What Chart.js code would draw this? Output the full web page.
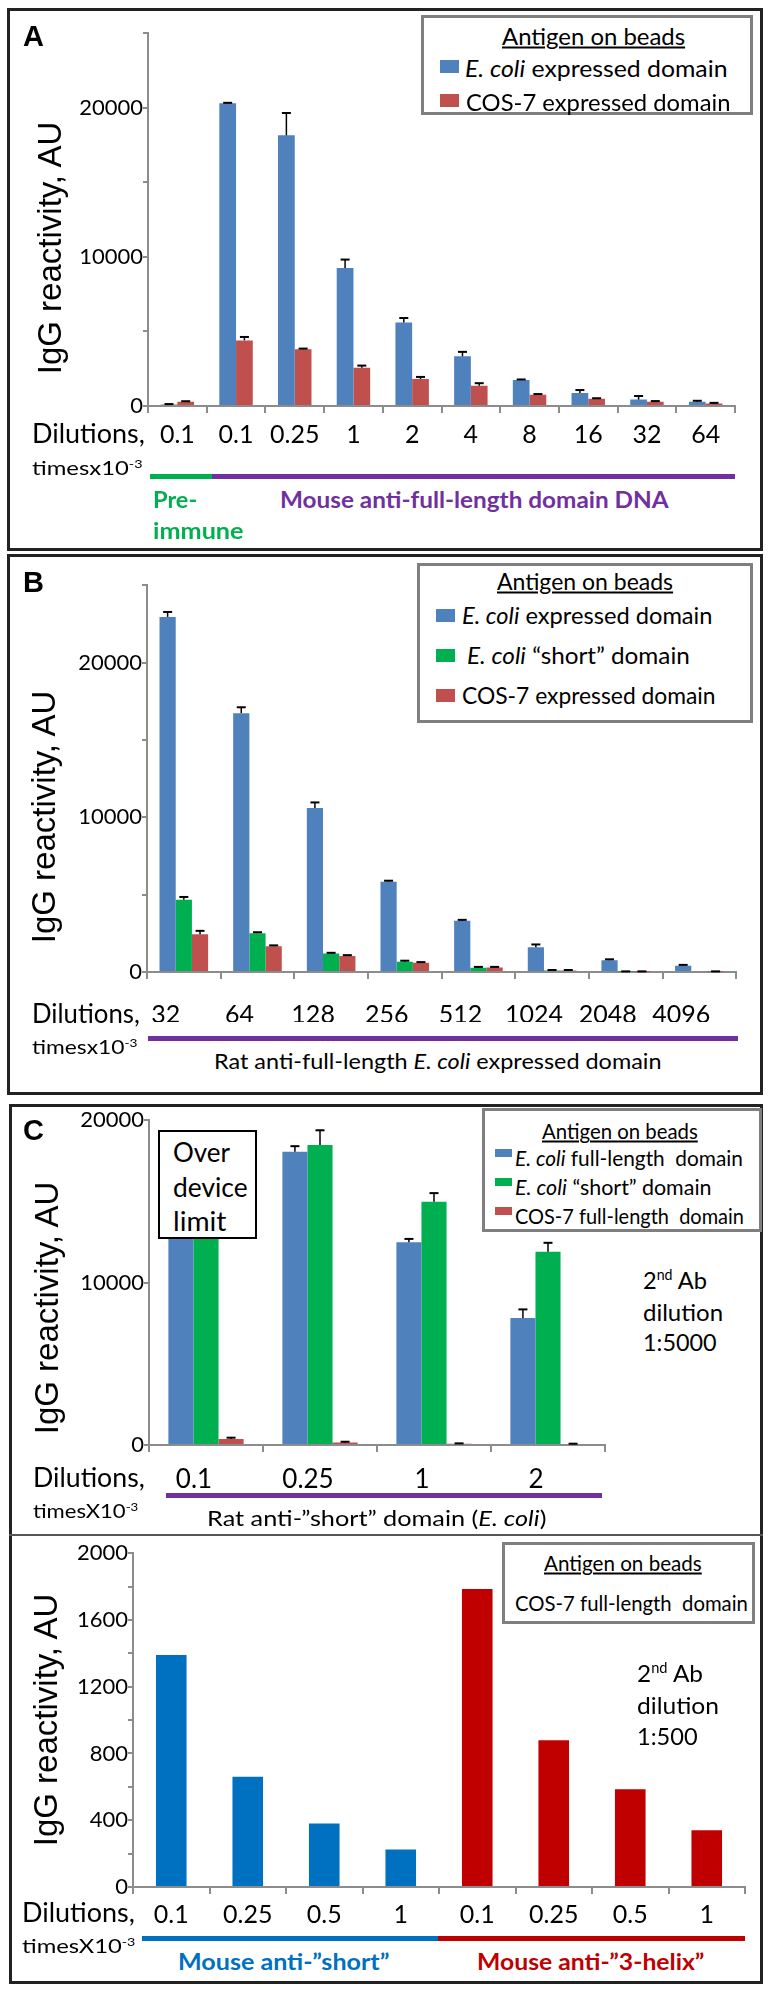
<!DOCTYPE html>
<html>
<head>
<meta charset="utf-8">
<title>IgG reactivity</title>
<script src="https://cdn.jsdelivr.net/npm/chart.js@4.4.1/dist/chart.umd.min.js"></script>
<style>
  body{margin:0;background:#fff;}
  #page{position:relative;width:768px;height:1991px;overflow:hidden;font-family:Lato,sans-serif;color:#000;}
  .frame{position:absolute;box-sizing:border-box;border:3px solid #222;}
  .t{position:absolute;white-space:nowrap;line-height:1;transform:translateY(-50%);transform-origin:0 50%;}
  .yt{position:absolute;white-space:nowrap;line-height:1;font:33px 'Liberation Sans',Arial,sans-serif;transform:translate(-50%,-50%) rotate(-90deg);}
  .leg{position:absolute;box-sizing:border-box;border:3px solid #7f7f7f;background:#fff;}
  .sw{position:absolute;}
  .bar{position:absolute;height:5px;}
  .panel{font:bold 29px 'Liberation Sans',Arial,sans-serif;}
  .ovr{position:absolute;box-sizing:border-box;border:2px solid #000;background:#fff;}
  canvas{position:absolute;}
  sup{font-size:60%;vertical-align:0.6em;line-height:0;}
</style>
</head>
<body>
<div id="page">
  <!-- frames -->
  <div class="frame" style="left:7px;top:8px;width:756px;height:543px"></div>
  <div class="frame" style="left:7px;top:554px;width:756px;height:541px"></div>
  <div class="frame" style="left:9px;top:1104px;width:754px;height:880px"></div>
  <div style="position:absolute;left:9px;top:1534px;width:754px;height:2px;background:#555"></div>

  <canvas id="chartA" width="695" height="436" style="left:50px;top:20px"></canvas>
  <canvas id="chartB" width="700" height="450" style="left:50px;top:572px"></canvas>
  <canvas id="chartC" width="565" height="390" style="left:50px;top:1107px"></canvas>
  <canvas id="chartD" width="715" height="387" style="left:40px;top:1540px"></canvas>

  <!-- panel A -->
  <div class="t panel" style="left:23px;top:36px">A</div>
  <div class="yt" style="left:50px;top:248px">IgG reactivity, AU</div>
  <div class="leg" style="left:421px;top:15px;width:332px;height:100px"></div>
  <div class="t" style="left:502px;top:36px;font-size:23px;text-decoration:underline" data-w="183">Antigen on beads</div>
  <div class="sw" style="left:440px;top:60px;width:19px;height:13px;background:#4F81BD"></div>
  <div class="t" style="left:465px;top:68px;font-size:23px" data-w="263"><i>E. coli</i> expressed domain</div>
  <div class="sw" style="left:440px;top:94px;width:19px;height:13px;background:#C0504D"></div>
  <div class="t" style="left:466px;top:102px;font-size:23px" data-w="265">COS-7 expressed domain</div>
  <div class="t" style="left:32px;top:433px;font-size:26px" data-w="113">Dilutions,</div>
  <div class="t" style="left:32px;top:467px;font-size:20px" data-w="111">timesx10<sup>-3</sup></div>
  <div class="bar" style="left:150px;top:474px;width:62px;background:#00B050"></div>
  <div class="bar" style="left:212px;top:474px;width:523px;background:#7030A0"></div>
  <div class="t" style="left:153px;top:499px;font-size:23px;font-weight:bold;color:#00B050" data-w="44">Pre-</div>
  <div class="t" style="left:153px;top:530px;font-size:23px;font-weight:bold;color:#00B050" data-w="91">immune</div>
  <div class="t" style="left:280px;top:499px;font-size:23px;font-weight:bold;color:#7030A0" data-w="389">Mouse anti-full-length domain DNA</div>

  <!-- panel B -->
  <div class="t panel" style="left:23px;top:582px">B</div>
  <div class="yt" style="left:44px;top:817px">IgG reactivity, AU</div>
  <div class="leg" style="left:417px;top:563px;width:336px;height:160px"></div>
  <div class="t" style="left:497px;top:581px;font-size:23px;text-decoration:underline" data-w="176">Antigen on beads</div>
  <div class="sw" style="left:436px;top:609px;width:19px;height:13px;background:#4F81BD"></div>
  <div class="t" style="left:462px;top:615px;font-size:23px" data-w="251"><i>E. coli</i> expressed domain</div>
  <div class="sw" style="left:436px;top:649px;width:19px;height:13px;background:#00B050"></div>
  <div class="t" style="left:467px;top:655px;font-size:23px" data-w="223"><i>E. coli</i> “short” domain</div>
  <div class="sw" style="left:436px;top:689px;width:19px;height:13px;background:#C0504D"></div>
  <div class="t" style="left:462px;top:695px;font-size:23px" data-w="254">COS-7 expressed domain</div>
  <div class="t" style="left:32px;top:1013px;font-size:26px" data-w="108">Dilutions,</div>
  <div class="t" style="left:32px;top:1046px;font-size:20px" data-w="106">timesx10<sup>-3</sup></div>
  <div class="bar" style="left:148px;top:1036px;width:590px;background:#7030A0"></div>
  <div class="t" style="left:214px;top:1061px;font-size:22px" data-w="448">Rat anti-full-length <i>E. coli</i> expressed domain</div>

  <!-- panel C -->
  <div class="t panel" style="left:23px;top:1130px">C</div>
  <div class="yt" style="left:47px;top:1308px">IgG reactivity, AU</div>
  <div class="ovr" style="left:158px;top:1130px;width:99px;height:109px"></div>
  <div class="t" style="left:173px;top:1152px;font-size:26px" data-w="57">Over</div>
  <div class="t" style="left:173px;top:1187px;font-size:26px" data-w="75">device</div>
  <div class="t" style="left:173px;top:1221px;font-size:26px" data-w="53">limit</div>
  <div class="leg" style="left:482px;top:1108px;width:280px;height:124px"></div>
  <div class="t" style="left:542px;top:1130px;font-size:21px;text-decoration:underline" data-w="156">Antigen on beads</div>
  <div class="sw" style="left:495px;top:1149px;width:17px;height:8px;background:#4F81BD"></div>
  <div class="t" style="left:515px;top:1157px;font-size:21px" data-w="228"><i>E. coli</i> full-length&nbsp; domain</div>
  <div class="sw" style="left:495px;top:1178px;width:17px;height:8px;background:#00B050"></div>
  <div class="t" style="left:515px;top:1186px;font-size:21px" data-w="197"><i>E. coli</i> “short” domain</div>
  <div class="sw" style="left:495px;top:1207px;width:17px;height:8px;background:#C0504D"></div>
  <div class="t" style="left:515px;top:1215px;font-size:21px" data-w="229">COS-7 full-length&nbsp; domain</div>
  <div class="t" style="left:643px;top:1280px;font-size:24px" data-w="64">2<sup>nd</sup> Ab</div>
  <div class="t" style="left:643px;top:1312px;font-size:24px" data-w="80">dilution</div>
  <div class="t" style="left:643px;top:1342px;font-size:24px" data-w="74">1:5000</div>
  <div class="t" style="left:33px;top:1477px;font-size:26px" data-w="112">Dilutions,</div>
  <div class="t" style="left:33px;top:1510px;font-size:20px" data-w="105">timesX10<sup>-3</sup></div>
  <div class="bar" style="left:166px;top:1493px;width:436px;background:#7030A0"></div>
  <div class="t" style="left:207px;top:1518px;font-size:22px" data-w="339">Rat anti-”short” domain (<i>E. coli</i>)</div>

  <!-- panel D -->
  <div class="yt" style="left:46px;top:1720px">IgG reactivity, AU</div>
  <div class="leg" style="left:502px;top:1542px;width:253px;height:82px"></div>
  <div class="t" style="left:544px;top:1562px;font-size:21px;text-decoration:underline" data-w="158">Antigen on beads</div>
  <div class="t" style="left:515px;top:1602px;font-size:21px" data-w="233">COS-7 full-length&nbsp; domain</div>
  <div class="t" style="left:637px;top:1673px;font-size:24px" data-w="66">2<sup>nd</sup> Ab</div>
  <div class="t" style="left:637px;top:1705px;font-size:24px" data-w="82">dilution</div>
  <div class="t" style="left:637px;top:1736px;font-size:24px" data-w="61">1:500</div>
  <div class="t" style="left:22px;top:1912px;font-size:26px" data-w="113">Dilutions,</div>
  <div class="t" style="left:22px;top:1945px;font-size:20px" data-w="113">timesX10<sup>-3</sup></div>
  <div class="bar" style="left:142px;top:1936px;width:296px;background:#0070C0"></div>
  <div class="bar" style="left:438px;top:1936px;width:307px;background:#C00000"></div>
  <div class="t" style="left:178px;top:1962px;font-size:22px;font-weight:bold;color:#0070C0" data-w="211">Mouse anti-”short”</div>
  <div class="t" style="left:477px;top:1962px;font-size:22px;font-weight:bold;color:#C00000" data-w="227">Mouse anti-”3-helix”</div>
</div>

<script>
// ---- data ----
var catsA = ['0.1', '0.1', '0.25', '1', '2', '4', '8', '16', '32', '64'];
var ecoliA = [100, 20300, 18150, 9250, 5600, 3330, 1740, 880, 430, 290];
var ecoliErrA = [30, 30, 1500, 570, 300, 300, 40, 190, 240, 60];
var cosA = [280, 4400, 3800, 2570, 1810, 1360, 760, 480, 290, 170];
var cosErrA = [40, 230, 50, 140, 140, 170, 40, 40, 40, 40];
var yLabelsA = [0, 10000, 20000];

var catsB = ['32', '64', '128', '256', '512', '1024', '2048', '4096'];
var ecoliB = [22950, 16730, 10600, 5840, 3310, 1600, 760, 400];
var ecoliErrB = [320, 380, 360, 60, 60, 180, 60, 60];
var shortB = [4670, 2510, 1200, 670, 270, 90, 20, 0];
var shortErrB = [180, 60, 40, 60, 60, 40, 20, null];
var cosB = [2440, 1670, 1040, 600, 290, 90, 20, 20];
var cosErrB = [220, 50, 50, 40, 40, 40, 20, 20];
var yLabelsB = [0, 10000, 20000];

var catsC = ['0.1', '0.25', '1', '2'];
var ecoliC = [19000, 18050, 12490, 7820];   // first value is over the device limit
var ecoliErrC = [null, 350, 200, 530];
var shortC = [19000, 18480, 14980, 11900];
var shortErrC = [null, 900, 530, 550];
var cosC = [370, 160, 80, 60];
var cosErrC = [80, 40, 20, 20];
var yLabelsC = [0, 10000, 20000];

var catsD = ['0.1', '0.25', '0.5', '1', '0.1', '0.25', '0.5', '1'];
var cosD = [1390, 660, 380, 225, 1785, 880, 585, 340];
var yLabelsD = [0, 400, 800, 1200, 1600, 2000];

// ---- text fitting for the html labels ----
document.querySelectorAll('[data-w]').forEach(function(el) {
  var w = el.offsetWidth;
  var s = (+el.dataset.w) / w;
  el.style.transform = 'translateY(-50%) scaleX(' + s + ')';
});

var BLUE = '#4F81BD', RED = '#C0504D', GREEN = '#00B050', AXIS = '#8c8c8c';
Chart.defaults.font.family = 'Lato';
Chart.defaults.color = '#000';

// upper error bars with a cap
var errorBars = {
  id: 'errorBars',
  afterDatasetsDraw: function(chart) {
    var ctx = chart.ctx, ys = chart.scales.y;
    chart.data.datasets.forEach(function(ds, i) {
      if (!ds.errors) return;
      chart.getDatasetMeta(i).data.forEach(function(bar, j) {
        var e = ds.errors[j];
        if (e == null) return;
        var v = ds.data[j];
        var y1 = ys.getPixelForValue(v), y2 = ys.getPixelForValue(v + e);
        ctx.save();
        ctx.strokeStyle = '#000';
        ctx.lineWidth = 1.5;
        ctx.beginPath();
        ctx.moveTo(bar.x, y1); ctx.lineTo(bar.x, y2);
        ctx.stroke();
        ctx.lineWidth = 2;
        ctx.beginPath();
        ctx.moveTo(bar.x - 4.5, y2); ctx.lineTo(bar.x + 4.5, y2);
        ctx.stroke();
        ctx.restore();
      });
    });
  }
};

function build(id, labels, datasets, o) {
  datasets.forEach(function(d) { d.categoryPercentage = o.cat; d.barPercentage = 1; });
  return new Chart(document.getElementById(id), {
    type: 'bar',
    data: { labels: labels, datasets: datasets },
    options: {
      responsive: false, animation: false, devicePixelRatio: 1,
      layout: { padding: { top: 10, right: 10, left: 0, bottom: 0 } },
      plugins: { legend: { display: false }, tooltip: { enabled: false } },
      scales: {
        x: {
          grid: { offset: true, drawOnChartArea: false, tickLength: 7, color: AXIS, lineWidth: 2 },
          border: { color: AXIS, width: 2 },
          ticks: { font: { size: o.xFont }, padding: o.xPad, maxRotation: 0, autoSkip: false, labelOffset: o.xOff || 0 },
          afterFit: function(s) { s.height = o.xH; }
        },
        y: {
          min: 0, max: o.max,
          grid: { drawOnChartArea: false, tickLength: 5, color: AXIS, lineWidth: 2 },
          border: { color: AXIS, width: 2 },
          ticks: { stepSize: o.step, font: { size: 22 }, padding: 0,
                   callback: function(v) { return o.shown.indexOf(v) >= 0 ? String(v) : ''; } },
          afterFit: function(s) { s.width = o.yW; }
        }
      }
    },
    plugins: [errorBars]
  });
}

build('chartA', catsA, [
  { data: ecoliA, errors: ecoliErrA, backgroundColor: BLUE },
  { data: cosA, errors: cosErrA, backgroundColor: RED }
], { cat: 0.57, max: 25000, step: 5000, shown: yLabelsA, yW: 98, xH: 50, xPad: 7, xFont: 25 });

build('chartB', catsB, [
  { data: ecoliB, errors: ecoliErrB, backgroundColor: BLUE },
  { data: shortB, errors: shortErrB, backgroundColor: GREEN },
  { data: cosB, errors: cosErrB, backgroundColor: RED }
], { cat: 0.66, max: 25000, step: 5000, shown: yLabelsB, yW: 97, xH: 50, xPad: 21, xFont: 25, xOff: -18 });

build('chartC', catsC, [
  { data: ecoliC, errors: ecoliErrC, backgroundColor: BLUE },
  { data: shortC, errors: shortErrC, backgroundColor: GREEN },
  { data: cosC, errors: cosErrC, backgroundColor: RED }
], { cat: 0.66, max: 20000, step: 10000, shown: yLabelsC, yW: 99, xH: 52, xPad: 12, xFont: 26, xOff: -12 });

build('chartD', catsD, [
  { data: cosD, backgroundColor: cosD.map(function(_, i) { return i < 4 ? '#0070C0' : '#C00000'; }) }
], { cat: 0.4, max: 2000, step: 200, shown: yLabelsD, yW: 93, xH: 40, xPad: 6, xFont: 25 });

// keep the html overlays above the canvases
document.querySelectorAll('canvas').forEach(function(c) { c.style.zIndex = 0; });
document.querySelectorAll('.leg,.ovr,.sw,.t').forEach(function(e) { e.style.zIndex = 1; });
</script>
</body>
</html>
